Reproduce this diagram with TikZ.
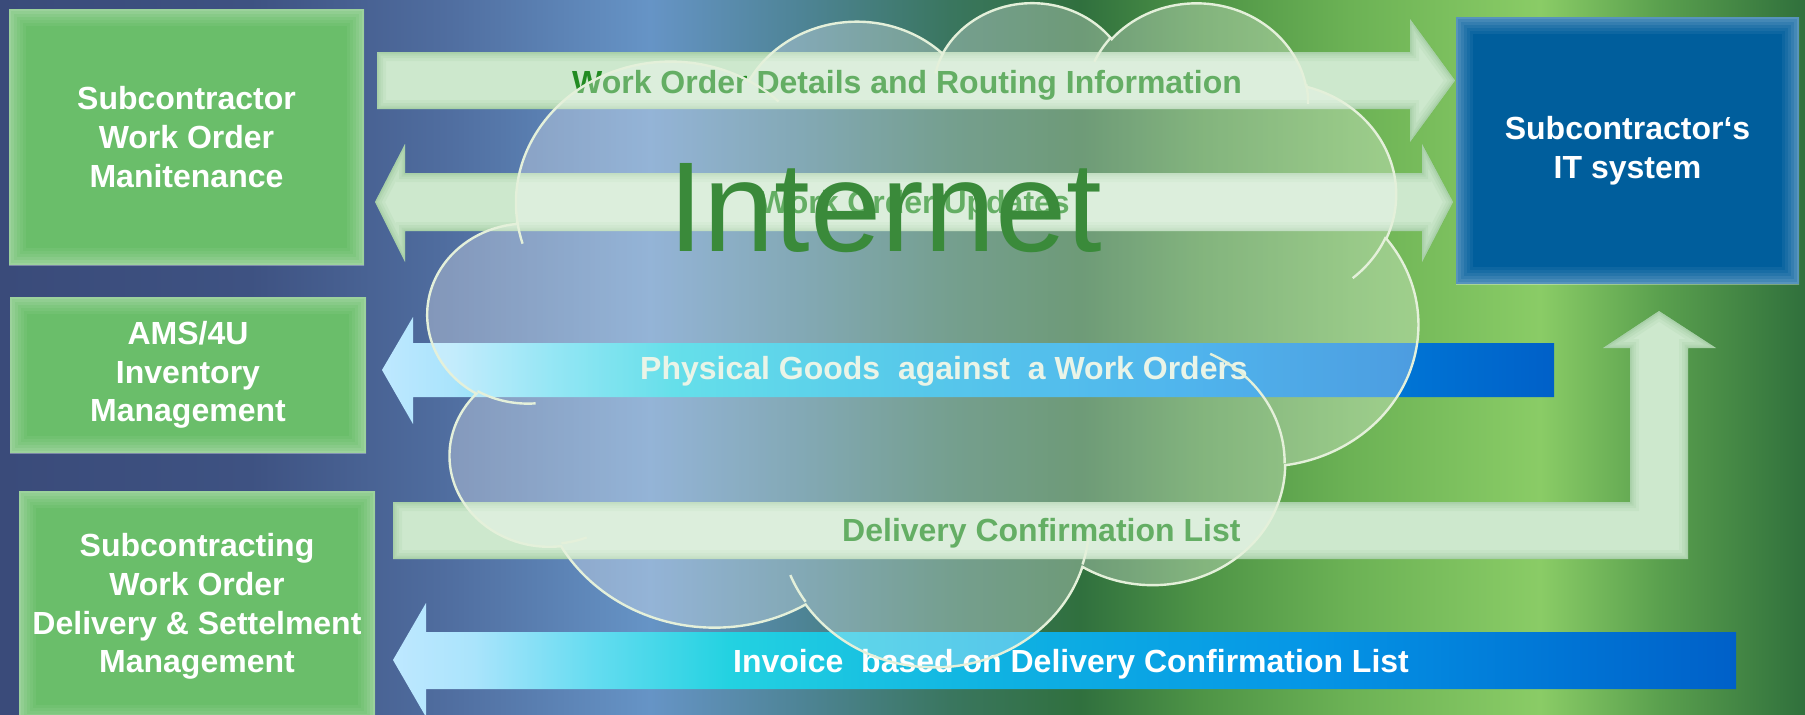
\documentclass[tikz,border=0pt]{standalone}
\usepackage{fontspec}
\setmainfont{Liberation Sans}
\definecolor{bg0}{RGB}{58,75,122}
\definecolor{bg1}{RGB}{62,82,130}
\definecolor{bg2}{RGB}{80,110,160}
\definecolor{bg3}{RGB}{102,148,198}
\definecolor{bg4}{RGB}{78,132,150}
\definecolor{bg5}{RGB}{58,118,95}
\definecolor{bg6}{RGB}{48,112,62}
\definecolor{bg7}{RGB}{78,148,70}
\definecolor{bg8}{RGB}{108,178,85}
\definecolor{bg9}{RGB}{138,204,102}
\definecolor{bg10}{RGB}{90,160,78}
\definecolor{bg11}{RGB}{48,112,60}
\definecolor{bf0}{RGB}{190,232,255}
\definecolor{bf1}{RGB}{170,228,252}
\definecolor{bf2}{RGB}{100,220,240}
\definecolor{bf3}{RGB}{35,210,225}
\definecolor{bf4}{RGB}{15,178,226}
\definecolor{bf5}{RGB}{5,150,230}
\definecolor{bf6}{RGB}{0,115,212}
\definecolor{bf7}{RGB}{0,96,200}
\definecolor{boxgreen}{RGB}{106,190,106}
\definecolor{boxblue}{RGB}{0,94,156}
\definecolor{pale}{RGB}{205,232,205}
\definecolor{paleedge}{RGB}{80,150,80}
\definecolor{lblgreen}{RGB}{34,139,34}
\definecolor{lblwhite}{RGB}{225,240,222}
\definecolor{cloudline}{RGB}{228,240,218}
\definecolor{nettext}{RGB}{58,138,58}
\pgfdeclarehorizontalshading{bgflow}{100bp}{color(0bp)=(bg0); color(25bp)=(bg0); color(31.93bp)=(bg1); color(37.47bp)=(bg2); color(43bp)=(bg3); color(47.16bp)=(bg4); color(51.32bp)=(bg5); color(54.92bp)=(bg6); color(58.24bp)=(bg7); color(62.4bp)=(bg8); color(67.66bp)=(bg9); color(70.98bp)=(bg10); color(75bp)=(bg11); color(100bp)=(bg11)}
\pgfdeclarehorizontalshading{blueflow}{100bp}{color(0bp)=(bf0); color(25bp)=(bf0); color(28bp)=(bf1); color(32.5bp)=(bf2); color(37.5bp)=(bf3); color(47.5bp)=(bf4); color(59bp)=(bf5); color(69bp)=(bf6); color(75bp)=(bf7); color(100bp)=(bf7)}
\newcommand\palearrow[1]{%
  \fill[pale,#1];
  \begin{scope}
    \clip[#1];
    \foreach \w/\o in {18/0.06,12/0.07,7/0.08,3/0.1}
      \draw[paleedge, line width=\w pt, opacity=\o, #1];
  \end{scope}}
\begin{document}
\begin{tikzpicture}[x=1pt,y=-1pt,
  boxtext/.style={text=white, align=center, inner sep=0pt, font=\fontsize{32}{38.7}\selectfont\bfseries},
  glow/.style={path picture={
     \foreach \w/\o in {34/0.05,28/0.05,22/0.06,16/0.07,10/0.08,4/0.1}
       \draw[white, line width=\w pt, opacity=\o] (path picture bounding box.south west) rectangle (path picture bounding box.north east);}},
  gbox/.style={rectangle, fill=boxgreen, glow, boxtext},
  bluebox/.style={rectangle, fill=boxblue, glow, boxtext},
  lbl/.style={anchor=base west, inner sep=0pt, font=\fontsize{32}{38.7}\selectfont\bfseries},
  oarc/.style args={#1/#2/#3/#4}{insert path={arc[x radius=#1, y radius=#2,
     start angle={#3+mod(atan2(#1*sin(#3),#2*cos(#3))-(#3)+900,360)-180},
     end angle={#3+#4+mod(atan2(#1*sin(#3+#4),#2*cos(#3+#4))-(#3+#4)+900,360)-180}]}},
  arrA/.style={insert path={(377,52) -- (1410,52) -- (1410,19) -- (1455,80.5) -- (1410,142) -- (1410,109) -- (377,109) -- cycle}},
  arrB/.style={insert path={(375,202) -- (405,144) -- (405,173) -- (1422,173) -- (1422,144) -- (1453,202) -- (1422,262) -- (1422,231) -- (405,231) -- (405,262) -- cycle}},
  arrC/.style={insert path={(382,370) -- (413,317) -- (413,343) -- (1554,343) -- (1554,397) -- (413,397) -- (413,424) -- cycle}},
  arrD/.style={insert path={(393,502) -- (1630,502) -- (1630,348) -- (1603,348) -- (1659,311) -- (1716,348) -- (1688,348) -- (1688,559) -- (393,559) -- cycle}},
  arrE/.style={insert path={(393,660) -- (426,603) -- (426,632) -- (1736,632) -- (1736,689) -- (426,689) -- (426,717) -- cycle}},
  cloudfill/.style={fill=white, fill opacity=0.3, draw=cloudline, line width=2.4pt},
  cloudcrease/.style={draw=cloudline, line width=2.4pt}
]
\useasboundingbox (0,0) rectangle (1805,715);
\shade[shading=bgflow] (0,0) rectangle (1805,715);

% boxes
\node[gbox, minimum width=355pt, minimum height=256pt] (wom) at (186.5,137) {Subcontractor\\Work Order\\Manitenance};
\node[gbox, minimum width=356pt, minimum height=156pt] (ams) at (188,375) {AMS/4U\\Inventory\\Management};
\node[gbox, minimum width=356pt, minimum height=231pt] (scd) at (197,606.5) {Subcontracting\\Work Order\\Delivery \& Settelment\\Management};
\node[bluebox, minimum width=343pt, minimum height=267pt] (its) at (1627.5,150.5) {Subcontractor‘s\\IT system};

% arrows
\palearrow{arrA}
\palearrow{arrB}
\palearrow{arrD}
\shade[shading=blueflow, arrC];
\shade[shading=blueflow, arrE];

% arrow labels
\node[lbl, text=lblgreen] (la) at (572,93.3) {Work Order Details and Routing Information};
\node[lbl, text=lblgreen] (lb) at (759,213) {Work Order Updates};
\node[lbl, text=lblwhite] (lc) at (640,379.3) {Physical Goods~ against~ a Work Orders};
\node[lbl, text=lblgreen] (ld) at (842,541.7) {Delivery Confirmation List};
\node[lbl, text=white] (le) at (733,672.7) {Invoice~ based on Delivery Confirmation List};

% cloud
\begin{scope}[shift={(428,1)}, x=0.22917pt, y=-0.1537pt]
 \path[cloudfill] (390,1437)
   [oarc=675.3/919/-190.4875/123.7805]
   [oarc=533.3/726.7/-144.1024/89.9452]
   [oarc=436.5/594.5/-145.8079/99.7230]
   [oarc=485.7/659.5/-130.9861/117.2417]
   [oarc=533.3/727.3/-78.7089/109.0269]
   [oarc=677.5/922/-46.2673/130.2690]
   [oarc=578.5/786.7/0.6250/114.0333]
   [oarc=675.2/921.5/22.4516/115.1726]
   [oarc=772/1054.3/66.2426/75.7110]
   [oarc=436/591.8/-274.9421/146.7356]
   [oarc=434.5/594.5/-246.8285/152.5189] -- cycle;
 \path[cloudcrease]
   (469.3,2617.7) [oarc=434.5/594.5/86.7420/26.4295]
   (692.8,3489.9) [oarc=436/591.8/73.6105/11.4475]
   (1647.8,3909.0) [oarc=675.2/921.5/137.6242/14.0811]
   (2882.7,3475.1) [oarc=675.2/921.5/6.4533/15.9984]
   (3412.9,2295.4) [oarc=578.5/786.7/-70.2924/70.9174]
   (4179.8,1535.4) [oarc=533.3/727.3/30.3180/27.7515]
   (3832.4,542.6) [oarc=485.7/659.5/-13.7443/14.8589]
   (2907.8,395.2) [oarc=485.7/659.5/-149.1815/18.1954]
   (2214.1,472.0) [oarc=436.5/594.5/-163.4943/17.6864]
   (1400.0,519.2) [oarc=675.3/919/-66.7070/12.3194]
   (412.7,1578.9) [oarc=675.3/919/157.6544/11.8582];
\end{scope}

\node[anchor=base west, inner sep=0pt, text=nettext, font=\fontsize{128}{150}\selectfont] (net) at (668,251) {Internet};
\end{tikzpicture}
\end{document}
